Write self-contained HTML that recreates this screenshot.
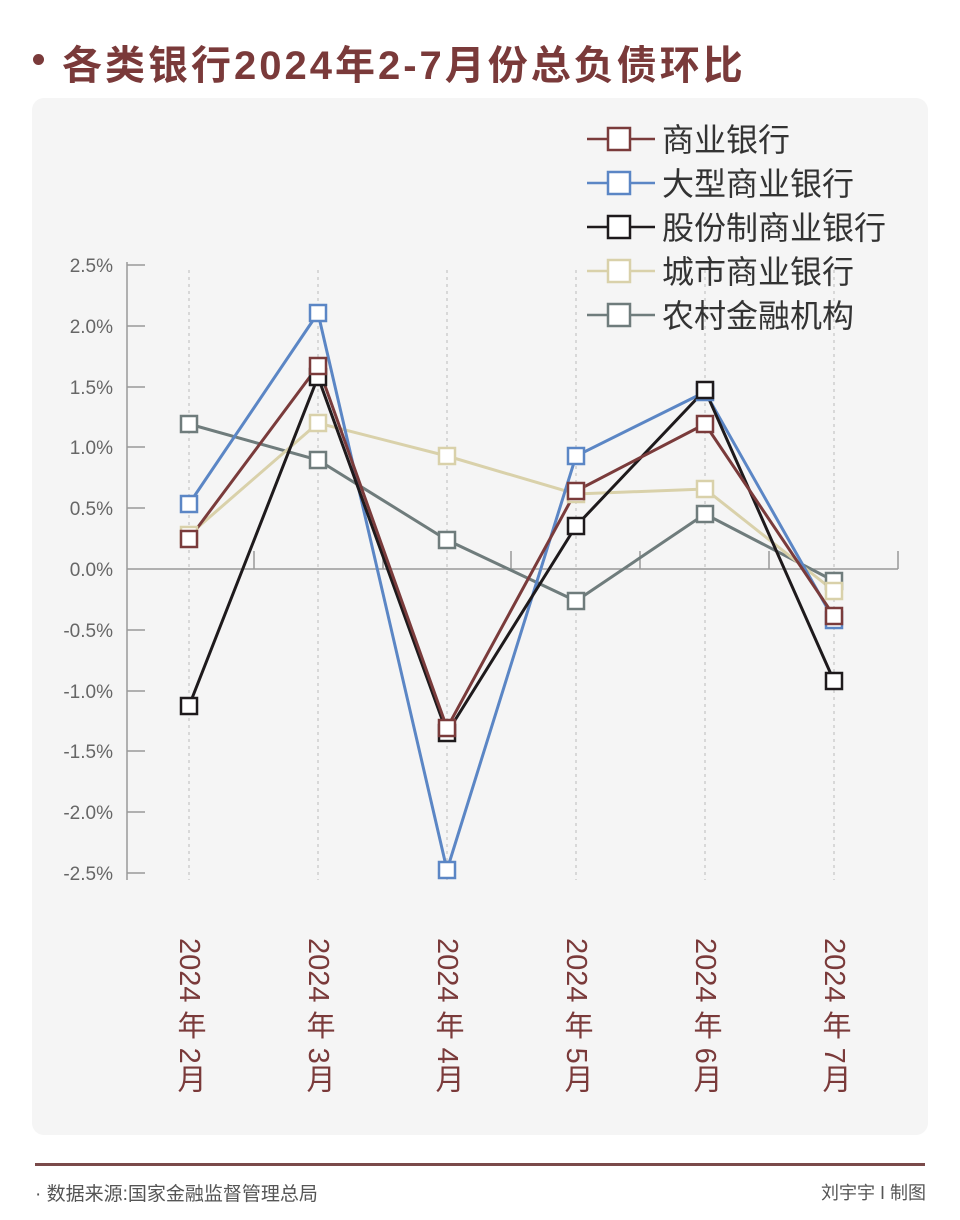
<!DOCTYPE html>
<html><head><meta charset="utf-8"><style>
body{margin:0;background:#fff;width:960px;height:1220px;position:relative;overflow:hidden;font-family:"Liberation Sans","Noto Sans CJK SC",sans-serif}
.b{position:absolute;left:33px;top:54px;width:11px;height:11px;border-radius:50%;background:#7a3a3a}
.t{position:absolute;left:62px;top:33px;font-size:40px;font-weight:bold;color:#7a3a3a;letter-spacing:3px}
.panel{position:absolute;left:32px;top:98px;width:896px;height:1037px;background:#f5f5f5;border-radius:12px}
.xl{position:absolute;top:938px;writing-mode:vertical-rl;font-size:29px;color:#7a3a3a;line-height:30px}
.fl{position:absolute;left:35px;top:1163px;width:890px;height:3px;background:#7a4a4a}
.fs{position:absolute;left:35px;top:1179px;font-size:19px;color:#555}
.fr{position:absolute;right:34px;top:1179px;font-size:18px;color:#555}
</style></head><body>
<div class="b"></div>
<div class="t">各类银行2024年2-7月份总负债环比</div>
<div class="panel"></div>
<svg style="position:absolute;left:0;top:0" width="960" height="1220" font-family="Liberation Sans, Noto Sans CJK SC, sans-serif">
<g stroke="#bbb" stroke-dasharray="3,4" stroke-width="1">
<line x1="189" y1="270" x2="189" y2="880"/><line x1="318" y1="270" x2="318" y2="880"/><line x1="447" y1="270" x2="447" y2="880"/><line x1="576" y1="270" x2="576" y2="880"/><line x1="705" y1="270" x2="705" y2="880"/><line x1="834" y1="270" x2="834" y2="880"/>
</g>
<g stroke="#999" stroke-width="1.5" fill="none">
<line x1="127" y1="262" x2="127" y2="880"/>
<line x1="127" y1="569" x2="898" y2="569"/>
<path d="M127 265h18M127 326h18M127 387h18M127 447h18M127 508h18M127 630h18M127 691h18M127 751h18M127 812h18M127 873h18"/>
<path d="M254 551v18M383 551v18M511 551v18M640 551v18M769 551v18M898 551v18"/>
</g>
<g font-size="19" fill="#666" text-anchor="end">
<text x="113" y="272">2.5%</text><text x="113" y="333">2.0%</text><text x="113" y="394">1.5%</text><text x="113" y="454">1.0%</text><text x="113" y="515">0.5%</text><text x="113" y="576">0.0%</text><text x="113" y="637">-0.5%</text><text x="113" y="698">-1.0%</text><text x="113" y="758">-1.5%</text><text x="113" y="819">-2.0%</text><text x="113" y="880">-2.5%</text>
</g>
<g fill="none" stroke-width="3">
<polyline stroke="#6f7c7c" points="189,424 318,460 447,540 576,601 705,514 834,581"/>
<polyline stroke="#d9d1aa" points="189,535 318,423 447,456 576,494 705,489 834,591"/>
<polyline stroke="#5b86c5" points="189,504 318,313 447,870 576,456 705,392 834,620"/>
<polyline stroke="#1e1a1c" points="189,706 318,377 447,733 576,526 705,390 834,681"/>
<polyline stroke="#7a3b3b" points="189,539 318,366 447,728 576,491 705,424 834,616"/>
</g>
<g fill="#fff" stroke-width="2.5">
<g stroke="#6f7c7c"><rect x="181" y="416" width="16" height="16"/><rect x="310" y="452" width="16" height="16"/><rect x="439" y="532" width="16" height="16"/><rect x="568" y="593" width="16" height="16"/><rect x="697" y="506" width="16" height="16"/><rect x="826" y="573" width="16" height="16"/></g>
<g stroke="#d9d1aa"><rect x="181" y="527" width="16" height="16"/><rect x="310" y="415" width="16" height="16"/><rect x="439" y="448" width="16" height="16"/><rect x="568" y="486" width="16" height="16"/><rect x="697" y="481" width="16" height="16"/><rect x="826" y="583" width="16" height="16"/></g>
<g stroke="#5b86c5"><rect x="181" y="496" width="16" height="16"/><rect x="310" y="305" width="16" height="16"/><rect x="439" y="862" width="16" height="16"/><rect x="568" y="448" width="16" height="16"/><rect x="697" y="384" width="16" height="16"/><rect x="826" y="612" width="16" height="16"/></g>
<g stroke="#1e1a1c"><rect x="181" y="698" width="16" height="16"/><rect x="310" y="369" width="16" height="16"/><rect x="439" y="725" width="16" height="16"/><rect x="568" y="518" width="16" height="16"/><rect x="697" y="382" width="16" height="16"/><rect x="826" y="673" width="16" height="16"/></g>
<g stroke="#7a3b3b"><rect x="181" y="531" width="16" height="16"/><rect x="310" y="358" width="16" height="16"/><rect x="439" y="720" width="16" height="16"/><rect x="568" y="483" width="16" height="16"/><rect x="697" y="416" width="16" height="16"/><rect x="826" y="608" width="16" height="16"/></g>
</g>
<g font-size="32" fill="#333">
<g stroke-width="2.5">
<line x1="587" y1="139" x2="655" y2="139" stroke="#7a3b3b"/><rect x="608" y="128" width="22" height="22" fill="#fff" stroke="#7a3b3b"/>
<line x1="587" y1="183" x2="655" y2="183" stroke="#5b86c5"/><rect x="608" y="172" width="22" height="22" fill="#fff" stroke="#5b86c5"/>
<line x1="587" y1="227" x2="655" y2="227" stroke="#1e1a1c"/><rect x="608" y="216" width="22" height="22" fill="#fff" stroke="#1e1a1c"/>
<line x1="587" y1="271" x2="655" y2="271" stroke="#d9d1aa"/><rect x="608" y="260" width="22" height="22" fill="#fff" stroke="#d9d1aa"/>
<line x1="587" y1="315" x2="655" y2="315" stroke="#6f7c7c"/><rect x="608" y="304" width="22" height="22" fill="#fff" stroke="#6f7c7c"/>
</g>
<text x="662" y="151">商业银行</text><text x="662" y="195">大型商业银行</text><text x="662" y="239">股份制商业银行</text><text x="662" y="283">城市商业银行</text><text x="662" y="327">农村金融机构</text>
</g>
</svg>
<div class="xl" style="left:174px">2024 年 2月</div>
<div class="xl" style="left:303px">2024 年 3月</div>
<div class="xl" style="left:432px">2024 年 4月</div>
<div class="xl" style="left:561px">2024 年 5月</div>
<div class="xl" style="left:690px">2024 年 6月</div>
<div class="xl" style="left:819px">2024 年 7月</div>
<div class="fl"></div>
<div class="fs">· 数据来源:国家金融监督管理总局</div>
<div class="fr">刘宇宇 I 制图</div>
</body></html>
